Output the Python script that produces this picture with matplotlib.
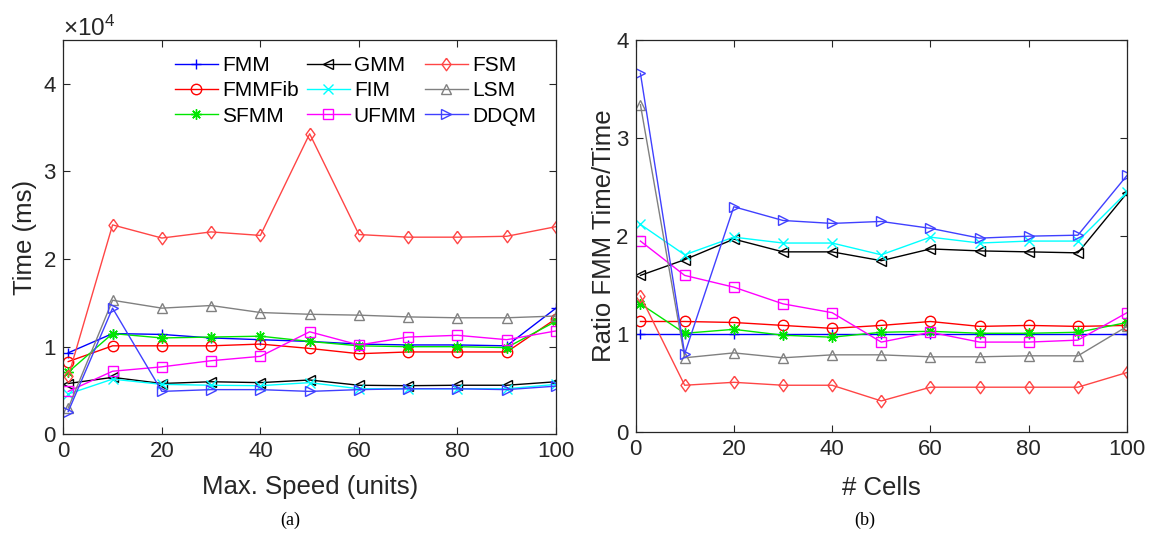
import matplotlib
matplotlib.use("Agg")
import matplotlib.pyplot as plt
from matplotlib.ticker import ScalarFormatter

plt.rcParams["font.family"] = ["Liberation Sans", "DejaVu Sans"]
plt.rcParams["mathtext.fontset"] = "custom"
plt.rcParams["mathtext.rm"] = "Liberation Sans"

# ── data ─────────────────────────────────────────────────────────────────────

x = [1, 10, 20, 30, 40, 50, 60, 70, 80, 90, 100]

# (a) time in ms vs max speed
time_fmm = [9300, 11500, 11400, 11000, 10800, 10600, 10300, 10200, 10200, 10100, 14400]
time_fmmfib = [8300, 10100, 10100, 10100, 10300, 9800, 9200, 9400, 9400, 9400, 13200]
time_sfmm = [7100, 11500, 11000, 11100, 11200, 10600, 10100, 10000, 10000, 9900, 12900]
time_gmm = [5800, 6500, 5800, 6000, 5900, 6200, 5600, 5550, 5600, 5600, 6000]
time_fim = [4600, 6300, 5700, 5600, 5550, 5900, 5200, 5200, 5200, 5200, 5700]
time_ufmm = [4900, 7200, 7700, 8400, 8900, 11700, 10200, 11100, 11300, 10800, 11800]
time_fsm = [6600, 23900, 22400, 23100, 22700, 34300, 22800, 22500, 22500, 22600, 23700]
time_lsm = [3000, 15300, 14400, 14700, 13900, 13700, 13600, 13400, 13300, 13300, 13500]
time_ddqm = [2600, 14400, 4900, 5100, 5100, 4900, 5100, 5200, 5200, 5100, 5500]

# (b) ratio FMM time / time vs number of cells
ratio_fmm = [1.0, 1.0, 1.0, 1.0, 1.0, 1.0, 1.0, 1.0, 1.0, 1.0, 1.0]
ratio_fmmfib = [1.13, 1.13, 1.12, 1.09, 1.06, 1.09, 1.13, 1.08, 1.09, 1.08, 1.09]
ratio_sfmm = [1.31, 1.01, 1.05, 0.99, 0.97, 1.02, 1.03, 1.01, 1.01, 1.02, 1.12]
ratio_gmm = [1.60, 1.76, 1.97, 1.84, 1.84, 1.75, 1.87, 1.85, 1.84, 1.83, 2.44]
ratio_fim = [2.12, 1.81, 1.99, 1.93, 1.93, 1.81, 1.99, 1.93, 1.95, 1.95, 2.45]
ratio_ufmm = [1.95, 1.60, 1.48, 1.31, 1.22, 0.92, 1.02, 0.92, 0.92, 0.94, 1.22]
ratio_fsm = [1.39, 0.48, 0.51, 0.48, 0.48, 0.32, 0.46, 0.46, 0.46, 0.46, 0.61]
ratio_lsm = [3.34, 0.76, 0.81, 0.76, 0.79, 0.79, 0.77, 0.77, 0.78, 0.78, 1.08]
ratio_ddqm = [3.66, 0.80, 2.30, 2.16, 2.13, 2.15, 2.08, 1.98, 2.00, 2.01, 2.62]

# matlab-ish diamond (taller than wide) and 8-arm asterisk
diamond = [(0, 1), (0.72, 0), (0, -1), (-0.72, 0), (0, 1)]
asterisk = (8, 2, 0)

# name, colour, marker -- order chosen so a 3-column legend fills like the original
styles = [
    ("FMM", "#0000ff", "+"),
    ("FMMFib", "#ff0000", "o"),
    ("SFMM", "#00e600", asterisk),
    ("GMM", "#000000", "<"),
    ("FIM", "#00ffff", "x"),
    ("UFMM", "#ff00ff", "s"),
    ("FSM", "#ff4545", diamond),
    ("LSM", "#808080", "^"),
    ("DDQM", "#4040ff", ">"),
]
time_series = [time_fmm, time_fmmfib, time_sfmm, time_gmm, time_fim,
               time_ufmm, time_fsm, time_lsm, time_ddqm]
ratio_series = [ratio_fmm, ratio_fmmfib, ratio_sfmm, ratio_gmm, ratio_fim,
                ratio_ufmm, ratio_fsm, ratio_lsm, ratio_ddqm]


def draw(ax, series):
    for (name, col, mk), ys in zip(styles, series):
        size = 9 if mk is diamond else 7.5
        if mk == "s":
            size = 7
        ax.plot(x, ys, color=col, marker=mk, markersize=size, linewidth=1.0,
                markerfacecolor="none", markeredgecolor=col,
                markeredgewidth=1.0, label=name)


def style_axes(ax):
    for s in ax.spines.values():
        s.set_color("#262626")
        s.set_linewidth(0.9)
    ax.tick_params(direction="in", top=True, right=True, length=5,
                   width=0.8, color="#262626", labelsize=16,
                   labelcolor="#262626", pad=5)
    ax.set_xlim(0, 100)
    ax.set_xticks([0, 20, 40, 60, 80, 100])


fig = plt.figure(figsize=(11.49, 5.4), dpi=100)

# ── (a) ──────────────────────────────────────────────────────────────────────
ax1 = fig.add_axes([0.0551, 0.1957, 0.4288, 0.7302])
draw(ax1, time_series)
style_axes(ax1)
ax1.set_ylim(0, 45000)
ax1.set_yticks([0, 10000, 20000, 30000, 40000])
fmt = ScalarFormatter(useMathText=True)
fmt.set_powerlimits((0, 0))
ax1.yaxis.set_major_formatter(fmt)
ax1.yaxis.get_offset_text().set_fontsize(17.5)
ax1.yaxis.get_offset_text().set_color("#262626")
ax1.set_xlabel("Max. Speed (units)", fontsize=18.5, color="#262626", labelpad=9)
ax1.set_ylabel("Time (ms)", fontsize=18.5, color="#262626", labelpad=4)
ax1.legend(ncol=3, frameon=False, fontsize=15, loc="upper left",
           bbox_to_anchor=(0.21, 0.98), handlelength=2.05, handletextpad=0.2,
           columnspacing=0.4, labelspacing=0.3, borderaxespad=0)

# ── (b) ──────────────────────────────────────────────────────────────────────
ax2 = fig.add_axes([0.5531, 0.1994, 0.4278, 0.7265])
draw(ax2, ratio_series)
style_axes(ax2)
ax2.set_ylim(0, 4)
ax2.set_yticks([0, 1, 2, 3, 4])
ax2.set_xlabel("# Cells", fontsize=18.5, color="#262626", labelpad=11)
ax2.set_ylabel("Ratio FMM Time/Time", fontsize=18.5, color="#262626", labelpad=0)

fig.text(0.2524, 0.028, "(a)", family="Liberation Serif", fontsize=13, ha="center")
fig.text(0.7528, 0.028, "(b)", family="Liberation Serif", fontsize=13, ha="center")

fig.savefig("out.png", dpi=100)
